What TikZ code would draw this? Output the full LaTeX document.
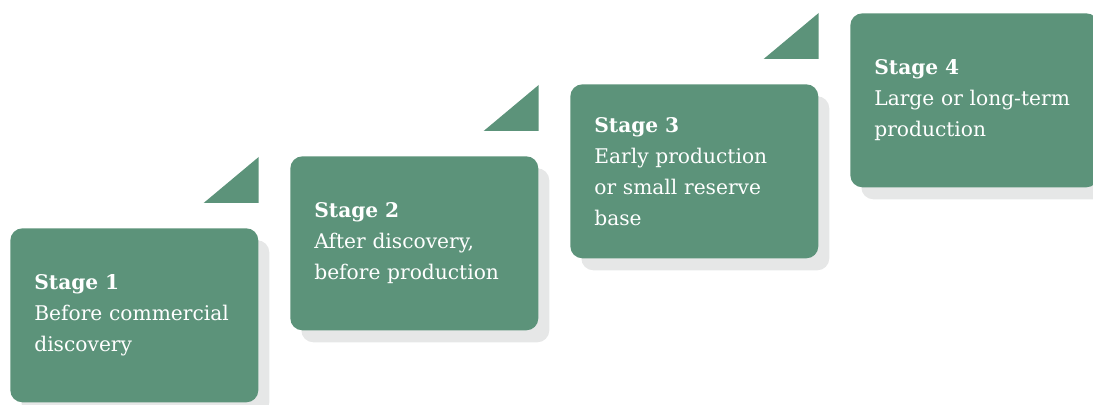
\documentclass[tikz,border=0pt]{standalone}
\usepackage{fontspec}
\setmainfont{DejaVu Serif}
\usetikzlibrary{positioning,calc,shadows}
\definecolor{stagegreen}{RGB}{92,147,122}
\definecolor{shadowgray}{RGB}{230,231,231}
\tikzset{
  stage box/.style={
    rectangle,
    fill=stagegreen,
    rounded corners=0.24cm,
    minimum width=4.96cm,
    minimum height=3.48cm,
    text width=4.0cm,
    inner xsep=0.48cm,
    align=left,
    text=white,
    font=\fontsize{11.5}{17.6}\selectfont,
    general shadow={fill=shadowgray,shadow xshift=0.22cm,shadow yshift=-0.24cm}
  },
  stage flag/.style={
    fill=stagegreen
  }
}
\newcommand{\stg}[1]{\textbf{Stage #1}\\}

\begin{document}
\begin{tikzpicture}[x=0.02cm,y=-0.02cm]
\useasboundingbox (0,0) rectangle (1093,405);
\node[stage box,anchor=north west] (s1) at (10,228) {\stg{1}Before commercial\\discovery};
\node[stage box,anchor=north west] (s2) at (290,156) {\stg{2}After discovery,\\before production};
\node[stage box,anchor=north west] (s3) at (570,84) {\stg{3}Early production\\or small reserve\\base};
\node[stage box,anchor=north west,minimum width=4.86cm] (s4) at (850,13) {\stg{4}Large or long-term\\production};
% little flags over the boxes
\foreach \s in {s1,s2,s3}
  \fill[stage flag] ($(\s.north east)+(0,-25)$) -- ++(-55,0) -- ++(55,-46) -- cycle;
\end{tikzpicture}
\end{document}
